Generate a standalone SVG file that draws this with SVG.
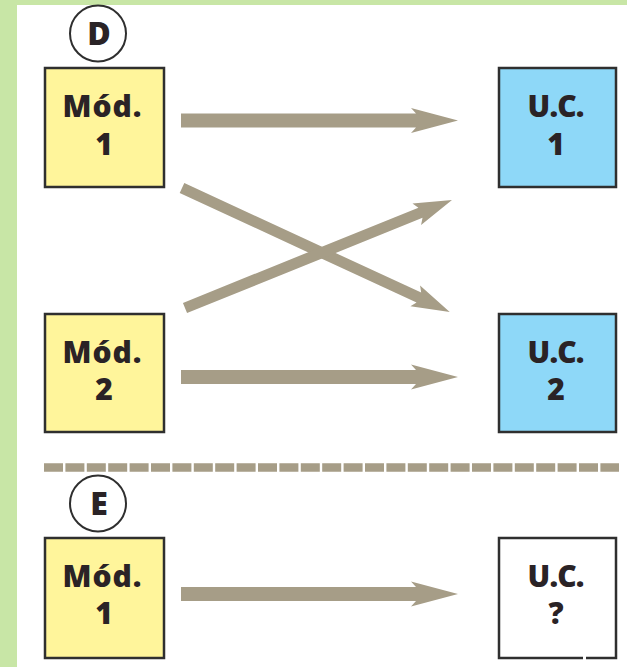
<svg xmlns="http://www.w3.org/2000/svg" width="627" height="667" viewBox="0 0 627 667">
<style>
.box{stroke:#2f2f2f;stroke-width:2.5}
.mod{fill:#fff59b}
.uc{fill:#8ed8f8}
.q{fill:#ffffff}
.lbl{font-family:"Open Sans","Noto Sans","Liberation Sans",sans-serif;font-weight:800;font-size:30px;fill:#2a2326;text-anchor:middle}
.ring{fill:#ffffff;stroke:#2f2f2f;stroke-width:2}
.letter{font-family:"Open Sans","Noto Sans","Liberation Sans",sans-serif;font-weight:800;font-size:32px;fill:#2a2326;text-anchor:middle}
.arrow{fill:#a69d87}
</style>
<rect x="0" y="0" width="627" height="667" fill="#ffffff"/>
<rect x="0" y="0" width="17" height="667" fill="#c8e6a6"/>
<rect x="0" y="0" width="627" height="5" fill="#c8e6a6"/>

<g id="label-D">
<circle class="ring" cx="98" cy="33.5" r="28"/>
<text class="letter" x="99" y="44.5">D</text>
</g>
<g id="label-E">
<circle class="ring" cx="98" cy="503.5" r="28"/>
<text class="letter" x="99" y="514.5">E</text>
</g>

<g id="connectors">
<path class="arrow" d="M181,113.5 H416 L411,108 L458,120.5 L411,133 L416,127.5 H181 Z"/>
<path class="arrow" d="M181,370 H416 L411,364.5 L458,377 L411,389.5 L416,384 H181 Z"/>
<path class="arrow" d="M181,587 H416 L411,581.5 L458,594 L411,606.5 L416,601 H181 Z"/>
<path class="arrow" transform="translate(182,188) rotate(24.83)" d="M0,-5.5 H261 L257,-11.5 L295,0 L257,11.5 L261,5.5 H0 Z"/>
<path class="arrow" transform="translate(185,308) rotate(-22.02)" d="M0,-5.5 H254 L250,-11.5 L288,0 L250,11.5 L254,5.5 H0 Z"/>
<line x1="44" y1="467.5" x2="619" y2="467.5" stroke="#a69d87" stroke-width="8.5" stroke-dasharray="19 2.4"/>
</g>

<g id="mod1-D">
<rect class="box mod" x="45" y="68" width="119" height="119"/>
<text class="lbl" x="102" y="117" textLength="79" lengthAdjust="spacing">Mód.</text>
<text class="lbl" x="104" y="155">1</text>
</g>
<g id="mod2-D">
<rect class="box mod" x="45" y="314" width="119" height="118"/>
<text class="lbl" x="102" y="363" textLength="79" lengthAdjust="spacing">Mód.</text>
<text class="lbl" x="104" y="400">2</text>
</g>
<g id="uc1-D">
<rect class="box uc" x="499" y="68" width="117" height="119"/>
<text class="lbl" x="556" y="117" textLength="57" lengthAdjust="spacing">U.C.</text>
<text class="lbl" x="556" y="155">1</text>
</g>
<g id="uc2-D">
<rect class="box uc" x="499" y="314" width="117" height="118"/>
<text class="lbl" x="556" y="363" textLength="57" lengthAdjust="spacing">U.C.</text>
<text class="lbl" x="556" y="400">2</text>
</g>
<g id="mod1-E">
<rect class="box mod" x="45" y="538" width="119" height="120"/>
<text class="lbl" x="102" y="587" textLength="79" lengthAdjust="spacing">Mód.</text>
<text class="lbl" x="104" y="624">1</text>
</g>
<g id="ucq-E">
<rect class="box q" x="499" y="538" width="117" height="120"/>
<rect x="583" y="655" width="3" height="5" fill="#ffffff"/>
<text class="lbl" x="556" y="587" textLength="57" lengthAdjust="spacing">U.C.</text>
<text class="lbl" x="556" y="624">?</text>
</g>
</svg>
